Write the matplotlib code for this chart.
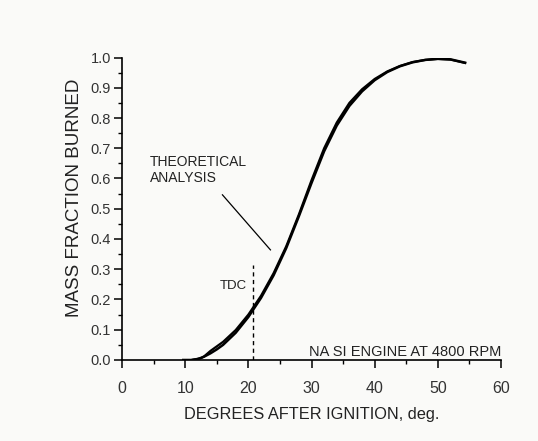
import matplotlib
matplotlib.use("Agg")
import matplotlib.pyplot as plt
from matplotlib.ticker import MultipleLocator, FixedLocator

# ---- data ----
exp_deg = [9.5, 11, 12, 13, 14, 15, 16, 18, 20, 22, 24, 26, 28, 30, 32, 34, 36, 38, 40, 42, 44, 46, 48, 50, 52, 54.5]
exp_mfb = [0.0, 0.0, 0.003, 0.011, 0.022, 0.035, 0.05, 0.09, 0.142, 0.205, 0.28, 0.37, 0.475, 0.585, 0.69,
           0.775, 0.84, 0.888, 0.925, 0.952, 0.971, 0.984, 0.992, 0.996, 0.994, 0.982]
theo_deg = [11, 12.5, 13, 14, 15, 16, 18, 20, 22, 24, 26, 28, 30, 32, 34, 36, 38, 40, 42, 44, 46, 48, 50, 52, 54.5]
theo_mfb = [0.0, 0.006, 0.012, 0.03, 0.045, 0.06, 0.099, 0.15, 0.212, 0.287, 0.376, 0.481, 0.594, 0.7,
            0.785, 0.85, 0.895, 0.929, 0.954, 0.972, 0.985, 0.992, 0.995, 0.993, 0.981]
tdc_deg = 20.8
tdc_top = 0.315
x_ticks = [0, 10, 20, 30, 40, 50, 60]
x_ticklabels = ["0", "10", "20", "30", "40", "50", "60"]
y_ticks = [0.0, 0.1, 0.2, 0.3, 0.4, 0.5, 0.6, 0.7, 0.8, 0.9, 1.0]
y_ticklabels = ["0.0", "0.1", "0.2", "0.3", "0.4", "0.5", "0.6", "0.7", "0.8", "0.9", "1.0"]

plt.rcParams['font.family'] = ['Liberation Sans', 'DejaVu Sans']
bg = '#fafaf8'
fig = plt.figure(figsize=(5.38, 4.41), dpi=100, facecolor=bg)
ax = fig.add_axes([0.2268, 0.1837, 0.7044, 0.6859], facecolor=bg)

ax.plot(exp_deg, exp_mfb, color='black', lw=1.8, solid_capstyle='butt', solid_joinstyle='round')
ax.plot(theo_deg, theo_mfb, color='black', lw=1.6, solid_capstyle='butt', solid_joinstyle='round')

ax.plot([tdc_deg, tdc_deg], [0, tdc_top], color='black', lw=1.0, ls=(0, (3, 2.5)))
ax.text(19.8, 0.235, "TDC", fontsize=9.5, ha='right', va='baseline', color='#222222')

ax.text(4.4, 0.587, "THEORETICAL\nANALYSIS", fontsize=10, ha='left', va='baseline',
        linespacing=1.25, color='#222222')
ax.plot([15.9, 23.5], [0.546, 0.364], color='black', lw=0.9)

ax.text(60, 0.013, "NA SI ENGINE AT 4800 RPM", fontsize=10.5, ha='right', va='baseline',
        color='#222222')

ax.set_xlim(0, 60)
ax.set_ylim(0, 1.0)
ax.xaxis.set_major_locator(FixedLocator(x_ticks))
ax.set_xticklabels(x_ticklabels, fontsize=11.5)
ax.xaxis.set_minor_locator(MultipleLocator(5))
ax.yaxis.set_major_locator(FixedLocator(y_ticks))
ax.set_yticklabels(y_ticklabels, fontsize=10.5, color='#333333')
ax.yaxis.set_minor_locator(MultipleLocator(0.05))
for lab in ax.get_xticklabels():
    lab.set_color('#333333')

ax.tick_params(axis='both', which='major', direction='out', length=6, width=1.1, pad=2)
ax.tick_params(axis='both', which='minor', direction='out', length=3, width=1.0)
ax.tick_params(axis='x', which='major', pad=9)

for s in ['top', 'right']:
    ax.spines[s].set_visible(False)
for s in ['left', 'bottom']:
    ax.spines[s].set_linewidth(1.2)

ax.set_xlabel("DEGREES AFTER IGNITION, deg.", fontsize=11.8, labelpad=8, color='#222222')
ax.set_ylabel("MASS FRACTION BURNED", fontsize=13.5, color='#222222')
ax.yaxis.set_label_coords(-0.103, 0.536)

fig.savefig("out.png", dpi=100, facecolor=bg)
